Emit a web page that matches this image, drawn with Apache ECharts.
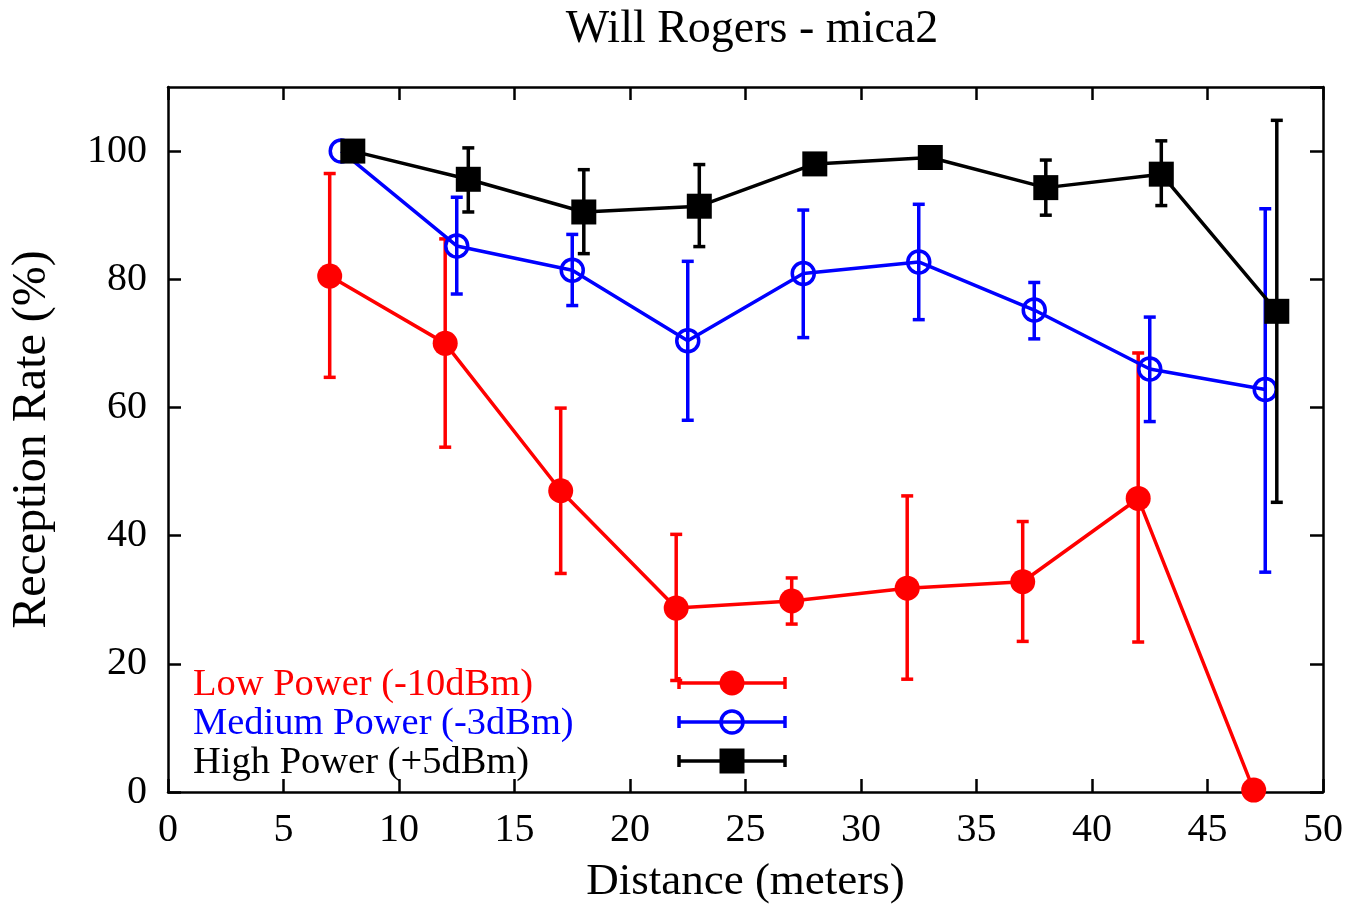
<!DOCTYPE html>
<html>
<head>
<meta charset="utf-8">
<title>Will Rogers - mica2</title>
<script src="https://cdn.jsdelivr.net/npm/echarts@6/dist/echarts.min.js"></script>
<style>
  html, body { margin: 0; padding: 0; background: #fff; }
  #chart { width: 1349px; height: 911px; }
</style>
</head>
<body>
<div id="chart"></div>
<script>
// Distance (m) and reception rate (%) for each transmit power level,
// with the lower / upper ends of each error bar (null = no bar drawn).
const distLow    = [7, 12, 17, 22, 27, 32, 37, 42, 47];
const rateLow    = [80.5, 70.0, 47.0, 28.7, 29.8, 31.8, 32.8, 45.8, 0.3];
const lowErrMin  = [64.7, 53.8, 34.1, 17.4, 26.2, 17.6, 23.5, 23.4, null];
const lowErrMax  = [96.5, 86.3, 59.9, 40.2, 33.4, 46.2, 42.2, 68.5, null];

const distMed    = [7.5, 12.5, 17.5, 22.5, 27.5, 32.5, 37.5, 42.5, 47.5];
const rateMed    = [100, 85.2, 81.4, 70.4, 80.9, 82.7, 75.2, 66.0, 62.8];
const medErrMin  = [null, 77.7, 75.9, 58.0, 70.9, 73.7, 70.7, 57.8, 34.3];
const medErrMax  = [null, 92.8, 87.0, 82.8, 90.8, 91.7, 79.5, 74.1, 91.0];

const distHigh   = [8, 13, 18, 23, 28, 33, 38, 43, 48];
const rateHigh   = [100, 95.6, 90.5, 91.4, 98.0, 99.0, 94.3, 96.4, 75.0];
const highErrMin = [null, 90.5, 84.0, 85.1, null, null, 90.0, 91.5, 45.2];
const highErrMax = [null, 100.5, 97.1, 97.9, null, null, 98.6, 101.6, 104.8];

const seriesNames = ['Low Power (-10dBm)', 'Medium Power (-3dBm)', 'High Power (+5dBm)'];
const seriesColors = ['#ff0000', '#0000ff', '#000000'];

const FONT = 'Liberation Serif, Times New Roman, serif';
const LW = 3.5;

function points(xs, ys) {
  return xs.map((x, i) => [x, ys[i]]);
}
function bars(xs, lo, hi) {
  const out = [];
  xs.forEach((x, i) => {
    if (lo[i] != null && hi[i] != null) out.push([x, lo[i], hi[i]]);
  });
  return out;
}

// vertical error bar with short caps at both ends
function errorBarSeries(data, color, z) {
  return {
    type: 'custom',
    z: z,
    silent: true,
    data: data,
    encode: { x: 0, y: [1, 2] },
    renderItem: function (params, api) {
      const x = api.value(0);
      const lo = api.coord([x, api.value(1)]);
      const hi = api.coord([x, api.value(2)]);
      const cap = 6;
      const style = { stroke: color, lineWidth: LW };
      return {
        type: 'group',
        children: [
          { type: 'line', shape: { x1: lo[0], y1: lo[1], x2: hi[0], y2: hi[1] }, style: style },
          { type: 'line', shape: { x1: lo[0] - cap, y1: lo[1], x2: lo[0] + cap, y2: lo[1] }, style: style },
          { type: 'line', shape: { x1: hi[0] - cap, y1: hi[1], x2: hi[0] + cap, y2: hi[1] }, style: style }
        ]
      };
    }
  };
}

const symbols = [
  { symbol: 'circle', size: 25, fill: seriesColors[0], border: 0 },
  { symbol: 'circle', size: 22, fill: 'rgba(0,0,0,0)', border: 3.5 },
  { symbol: 'rect', size: 25, fill: seriesColors[2], border: 0 }
];

function lineSeries(idx, data, z) {
  const s = symbols[idx];
  return {
    type: 'line',
    name: seriesNames[idx],
    z: z,
    data: data,
    symbol: s.symbol,
    symbolSize: s.size,
    showAllSymbol: true,
    lineStyle: { color: seriesColors[idx], width: LW },
    itemStyle: { color: s.fill, borderColor: seriesColors[idx], borderWidth: s.border },
    emphasis: { disabled: true }
  };
}

// key entries: label on the left, sample (bar + marker) on the right
function keyGraphics() {
  const els = [];
  const rowsY = [683, 722, 761];
  const x1 = 679, x2 = 785, xm = 732, cap = 6;
  rowsY.forEach((y, i) => {
    const c = seriesColors[i];
    els.push({
      type: 'text', left: 193, top: y - 18,
      style: { text: seriesNames[i], fill: c, font: '38.5px ' + FONT }
    });
    const st = { stroke: c, lineWidth: LW };
    els.push({ type: 'line', shape: { x1: x1, y1: y, x2: x2, y2: y }, style: st });
    els.push({ type: 'line', shape: { x1: x1, y1: y - cap, x2: x1, y2: y + cap }, style: st });
    els.push({ type: 'line', shape: { x1: x2, y1: y - cap, x2: x2, y2: y + cap }, style: st });
    if (i === 0) {
      els.push({ type: 'circle', shape: { cx: xm, cy: y, r: 12.5 }, style: { fill: c } });
    } else if (i === 1) {
      els.push({ type: 'circle', shape: { cx: xm, cy: y, r: 11 }, style: { fill: 'none', stroke: c, lineWidth: LW } });
    } else {
      els.push({ type: 'rect', shape: { x: xm - 12.5, y: y - 12.5, width: 25, height: 25 }, style: { fill: c } });
    }
  });
  return els;
}

const axisLineStyle = { show: true, onZero: false, lineStyle: { color: '#000', width: 2.5 } };
const tickStyle = { show: true, inside: true, length: 13, lineStyle: { color: '#000', width: 2.5 } };
const labelStyle = { color: '#000', fontFamily: FONT, fontSize: 40 };

const option = {
  animation: false,
  backgroundColor: '#fff',
  title: {
    text: 'Will Rogers - mica2',
    left: 747,
    top: 2,
    textAlign: 'center',
    textStyle: { fontFamily: FONT, fontSize: 46, fontWeight: 'normal', color: '#000' }
  },
  grid: { left: 168, top: 87, width: 1155, height: 705, containLabel: false, outerBoundsMode: 'none' },
  xAxis: [
    {
      type: 'value', min: 0, max: 50, interval: 5, position: 'bottom',
      axisLine: axisLineStyle, axisTick: tickStyle,
      axisLabel: Object.assign({ margin: 18 }, labelStyle),
      splitLine: { show: false },
      name: 'Distance (meters)', nameLocation: 'middle', nameGap: 68,
      nameTextStyle: { color: '#000', fontFamily: FONT, fontSize: 45 }
    },
    {
      type: 'value', min: 0, max: 50, interval: 5, position: 'top',
      axisLine: axisLineStyle, axisTick: tickStyle,
      axisLabel: { show: false }, splitLine: { show: false }
    }
  ],
  yAxis: [
    {
      type: 'value', min: 0, max: 110, interval: 20, position: 'left',
      axisLine: axisLineStyle, axisTick: tickStyle,
      axisLabel: Object.assign({ margin: 21, showMaxLabel: false }, labelStyle),
      splitLine: { show: false },
      name: 'Reception Rate (%)', nameLocation: 'middle', nameGap: 112, nameRotate: 90,
      nameTextStyle: { color: '#000', fontFamily: FONT, fontSize: 48 }
    },
    {
      type: 'value', min: 0, max: 110, interval: 20, position: 'right',
      axisLine: axisLineStyle, axisTick: tickStyle,
      axisLabel: { show: false }, splitLine: { show: false }
    }
  ],
  series: [
    lineSeries(0, points(distLow, rateLow), 3),
    errorBarSeries(bars(distLow, lowErrMin, lowErrMax), seriesColors[0], 2),
    lineSeries(1, points(distMed, rateMed), 5),
    errorBarSeries(bars(distMed, medErrMin, medErrMax), seriesColors[1], 4),
    lineSeries(2, points(distHigh, rateHigh), 7),
    errorBarSeries(bars(distHigh, highErrMin, highErrMax), seriesColors[2], 6)
  ],
  graphic: keyGraphics()
};

const chart = echarts.init(document.getElementById('chart'), null, { renderer: 'canvas' });
chart.setOption(option);
</script>
</body>
</html>
